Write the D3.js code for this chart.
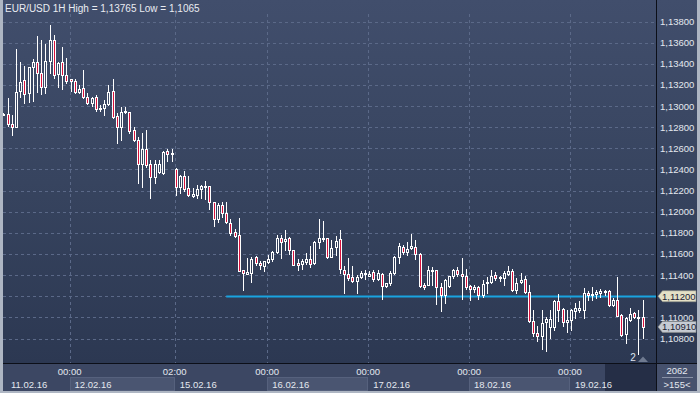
<!DOCTYPE html>
<html>
<head>
<meta charset="utf-8">
<script src="https://cdn.jsdelivr.net/npm/d3@7"></script>
<style>
  html, body { margin: 0; padding: 0; background: #2e3a55; }
  svg { display: block; font-family: "Liberation Sans", Arial, sans-serif; }
</style>
</head>
<body>
<svg id="chart"></svg>
<script>
// EUR/USD 1H candles, 11.02.16 - 19.02.16
const open = [
  1.12921,1.12921,1.12827,1.12805,1.13146,1.13244,1.13121,1.13367,1.13414,1.13310,
  1.13177,1.13424,1.13626,1.13301,1.13414,1.13291,1.13253,1.13234,1.13133,1.13168,
  1.13089,1.13032,1.13083,1.12969,1.12978,1.13019,1.13143,1.12903,1.12798,1.12940,
  1.12940,1.12773,1.12678,1.12448,1.12590,1.12448,1.12324,1.12378,1.12367,1.12572,
  1.12543,1.12407,1.12230,1.12338,1.12221,1.12151,1.12158,1.12211,1.12237,1.12243,
  1.12091,1.11927,1.12063,1.11984,1.11889,1.11810,1.11775,1.11447,1.11415,1.11421,
  1.11567,1.11519,1.11488,1.11526,1.11554,1.11620,1.11747,1.11722,1.11747,1.11636,
  1.11516,1.11507,1.11522,1.11548,1.11510,1.11709,1.11740,1.11747,1.11573,1.11662,
  1.11738,1.11447,1.11415,1.11384,1.11346,1.11384,1.11409,1.11393,1.11431,1.11365,
  1.11415,1.11295,1.11321,1.11422,1.11567,1.11662,1.11621,1.11652,1.11668,1.11596,
  1.11311,1.11311,1.11441,1.11447,1.11283,1.11210,1.11295,1.11390,1.11447,1.11415,
  1.11390,1.11295,1.11264,1.11283,1.11210,1.11321,1.11331,1.11401,1.11369,1.11372,
  1.11407,1.11439,1.11256,1.11331,1.11366,1.11237,1.10965,1.10851,1.10819,1.10952,
  1.10908,1.10908,1.11151,1.11082,1.10955,1.10977,1.11056,1.11066,1.11066,1.11230,
  1.11208,1.11221,1.11230,1.11237,1.11246,1.11120,1.11167,1.11025,1.10845,1.10977,
  1.11041,1.11000,1.11003
];
const high = [
  1.12932,1.13073,1.12915,1.13541,1.13414,1.13380,1.13373,1.13446,1.13664,1.13626,
  1.13588,1.13765,1.13674,1.13421,1.13557,1.13452,1.13260,1.13260,1.13200,1.13342,
  1.13121,1.13089,1.13105,1.13010,1.13057,1.13200,1.13253,1.12931,1.12988,1.12988,
  1.12943,1.12805,1.12710,1.12741,1.12773,1.12489,1.12489,1.12489,1.12572,1.12591,
  1.12591,1.12410,1.12347,1.12388,1.12338,1.12221,1.12252,1.12252,1.12287,1.12245,
  1.12093,1.12079,1.12094,1.12091,1.11930,1.11835,1.11940,1.11450,1.11564,1.11573,
  1.11579,1.11535,1.11532,1.11589,1.11627,1.11775,1.11778,1.11826,1.11763,1.11638,
  1.11557,1.11557,1.11605,1.11674,1.11722,1.11927,1.11914,1.11750,1.11731,1.11769,
  1.11826,1.11485,1.11558,1.11485,1.11400,1.11441,1.11447,1.11441,1.11447,1.11447,
  1.11422,1.11327,1.11441,1.11580,1.11706,1.11684,1.11716,1.11788,1.11731,1.11605,
  1.11321,1.11485,1.11479,1.11450,1.11327,1.11365,1.11392,1.11460,1.11479,1.11558,
  1.11460,1.11311,1.11305,1.11295,1.11352,1.11384,1.11451,1.11426,1.11395,1.11436,
  1.11489,1.11458,1.11372,1.11420,1.11388,1.11309,1.11072,1.10914,1.11072,1.11003,
  1.11072,1.11167,1.11224,1.11088,1.11072,1.11079,1.11135,1.11151,1.11278,1.11246,
  1.11287,1.11256,1.11268,1.11262,1.11256,1.11183,1.11382,1.11028,1.11003,1.11088,
  1.11047,1.11072,1.11167
];
const low = [
  1.12915,1.12811,1.12726,1.12800,1.13089,1.13032,1.13042,1.13051,1.13133,1.13114,
  1.13121,1.13310,1.13263,1.13184,1.13159,1.13215,1.13146,1.13127,1.13127,1.13073,
  1.13019,1.13001,1.12956,1.12956,1.12915,1.13010,1.12890,1.12647,1.12678,1.12931,
  1.12741,1.12672,1.12267,1.12236,1.12425,1.12125,1.12274,1.12362,1.12360,1.12483,
  1.12483,1.12154,1.12173,1.12199,1.12150,1.12135,1.12126,1.12126,1.12117,1.12028,
  1.11867,1.11905,1.11946,1.11889,1.11778,1.11763,1.11438,1.11263,1.11409,1.11336,
  1.11494,1.11453,1.11440,1.11516,1.11535,1.11605,1.11564,1.11636,1.11598,1.11494,
  1.11447,1.11453,1.11503,1.11478,1.11503,1.11661,1.11725,1.11564,1.11567,1.11589,
  1.11422,1.11232,1.11352,1.11336,1.11232,1.11368,1.11359,1.11390,1.11346,1.11352,
  1.11178,1.11283,1.11308,1.11409,1.11510,1.11599,1.11589,1.11643,1.11554,1.11283,
  1.11273,1.11302,1.11305,1.11125,1.11058,1.11140,1.11289,1.11377,1.11390,1.11178,
  1.11273,1.11169,1.11242,1.11175,1.11194,1.11226,1.11325,1.11357,1.11341,1.11309,
  1.11401,1.11252,1.11230,1.11325,1.11230,1.10952,1.10826,1.10772,1.10699,1.10677,
  1.10804,1.10883,1.10962,1.10914,1.10857,1.10883,1.10993,1.11047,1.10993,1.11167,
  1.11161,1.11183,1.11192,1.11214,1.11110,1.11104,1.11009,1.10826,1.10756,1.10962,
  1.10993,1.10650,1.10804
];
const close = [
  1.12928,1.12827,1.12805,1.13133,1.13231,1.13114,1.13367,1.13414,1.13310,1.13177,
  1.13424,1.13626,1.13291,1.13405,1.13291,1.13241,1.13234,1.13133,1.13162,1.13083,
  1.13026,1.13076,1.12969,1.12985,1.13019,1.13133,1.12893,1.12798,1.12940,1.12953,
  1.12764,1.12678,1.12448,1.12590,1.12441,1.12324,1.12448,1.12448,1.12568,1.12546,
  1.12553,1.12230,1.12338,1.12211,1.12154,1.12167,1.12211,1.12243,1.12243,1.12091,
  1.11927,1.12063,1.11984,1.11898,1.11801,1.11769,1.11440,1.11421,1.11428,1.11557,
  1.11516,1.11491,1.11532,1.11557,1.11617,1.11753,1.11709,1.11740,1.11636,1.11500,
  1.11497,1.11535,1.11551,1.11503,1.11709,1.11750,1.11753,1.11573,1.11652,1.11725,
  1.11453,1.11415,1.11368,1.11346,1.11384,1.11422,1.11422,1.11415,1.11359,1.11422,
  1.11295,1.11321,1.11422,1.11573,1.11675,1.11621,1.11643,1.11675,1.11596,1.11295,
  1.11289,1.11447,1.11447,1.11283,1.11210,1.11352,1.11390,1.11447,1.11415,1.11390,
  1.11283,1.11264,1.11289,1.11210,1.11314,1.11333,1.11395,1.11369,1.11382,1.11420,
  1.11439,1.11256,1.11325,1.11357,1.11237,1.10965,1.10851,1.10819,1.10946,1.10984,
  1.10984,1.11151,1.11072,1.10952,1.10977,1.11072,1.11088,1.11091,1.11230,1.11211,
  1.11224,1.11237,1.11252,1.11252,1.11120,1.11167,1.11015,1.10829,1.10993,1.11034,
  1.11003,1.11003,1.10910
];

const yTicks = [1.108, 1.110, 1.112, 1.114, 1.116, 1.118, 1.120, 1.122,
                1.124, 1.126, 1.128, 1.130, 1.132, 1.134, 1.136, 1.138];
const timeTickIdx = [16, 41, 63, 87, 111, 135];
const timeTickLabels = ["00:00", "02:00", "00:00", "00:00", "00:00", "00:00"];
const dayStartIdx = [0, 16, 41, 63, 87, 111, 135];
const dayLabels = ["11.02.16", "12.02.16", "15.02.16", "16.02.16", "17.02.16", "18.02.16", "19.02.16"];
const levelPrice = 1.112;
const levelStartIdx = 53;
const titleText = "EUR/USD 1H High = 1,13765 Low = 1,1065";
const barCount = "2062";
const barVisible = ">155<";

const W = 700, H = 393;
const plot = {left: 3, right: 656, top: 0, bottom: 363};
const fmt = v => d3.format(".5f")(v).replace(".", ",");

const svg = d3.select("#chart").attr("width", W).attr("height", H);

const defs = svg.append("defs");
const bg = defs.append("linearGradient")
  .attr("id", "bg").attr("gradientUnits", "userSpaceOnUse")
  .attr("x1", 0).attr("y1", 0).attr("x2", 0).attr("y2", plot.bottom);
bg.append("stop").attr("offset", "0%").attr("stop-color", "#414e6c");
bg.append("stop").attr("offset", "50%").attr("stop-color", "#37445f");
bg.append("stop").attr("offset", "100%").attr("stop-color", "#2c3852");

// backgrounds
svg.append("rect").attr("x", 0).attr("y", 0).attr("width", W).attr("height", H).attr("fill", "url(#bg)");
svg.append("rect").attr("x", plot.left).attr("y", plot.bottom).attr("width", W - plot.left).attr("height", H - plot.bottom)
  .attr("fill", "#3c4763");

const x = d3.scaleLinear().domain([0, open.length - 1]).range([3.3, 642.5]);
const y = d3.scaleLinear().domain([1.108, 1.138]).range([338.5, 21.5]);

// date boxes on the time axis
const dayEnds = dayStartIdx.slice(1).map(i => x(i) - 1).concat([plot.right]);
dayStartIdx.forEach((d, k) => {
  if (k % 2 === 1) {
    const x0 = Math.round(x(d) - 1);
    svg.append("rect")
      .attr("x", x0 + 0.5).attr("y", 377.5)
      .attr("width", Math.round(dayEnds[k]) - x0 - 1).attr("height", 13)
      .attr("fill", "#4a5571").attr("stroke", "#56617d");
  }
});
svg.append("rect").attr("x", 605).attr("y", 364).attr("width", 51).attr("height", 27).attr("fill", "#252e46");
svg.append("rect").attr("x", 657).attr("y", 364).attr("width", 40).attr("height", 27).attr("fill", "#46516d");

// grid
const grid = svg.append("g").attr("stroke", "#5b6988").attr("stroke-dasharray", "3,3").attr("stroke-width", 1);
yTicks.forEach(v => {
  const yy = Math.round(y(v)) + 0.5;
  grid.append("line").attr("x1", plot.left).attr("x2", plot.right).attr("y1", yy).attr("y2", yy);
});
timeTickIdx.forEach(i => {
  const xx = Math.round(x(i) - 1) + 0.5;
  grid.append("line").attr("x1", xx).attr("x2", xx).attr("y1", 14).attr("y2", plot.bottom);
});

// level line
svg.append("line")
  .attr("x1", x(levelStartIdx)).attr("x2", plot.right)
  .attr("y1", Math.round(y(levelPrice)) + 0.5).attr("y2", Math.round(y(levelPrice)) + 0.5)
  .attr("stroke", "#19a3e0").attr("stroke-width", 2);

// candles
const candles = open.map((o, i) => ({i: i, o: o, h: high[i], l: low[i], c: close[i]}));
const cg = svg.append("g").attr("shape-rendering", "crispEdges");
const cEnter = cg.selectAll("g.candle").data(candles).enter().append("g").attr("class", "candle");
cEnter.append("line")
  .attr("x1", d => Math.round(x(d.i)) + 0.5).attr("x2", d => Math.round(x(d.i)) + 0.5)
  .attr("y1", d => Math.round(y(d.h))).attr("y2", d => Math.round(y(d.l)) + 1)
  .attr("stroke", "#ffffff").attr("stroke-width", 1);
cEnter.append("rect")
  .attr("x", d => Math.round(x(d.i)) - 0.5)
  .attr("y", d => Math.round(y(Math.max(d.o, d.c))) + 0.5)
  .attr("width", 2)
  .attr("height", d => Math.max(1, Math.round(y(Math.min(d.o, d.c))) - Math.round(y(Math.max(d.o, d.c)))))
  .attr("fill", d => d.c < d.o ? "#d8123c" : "url(#bg)")
  .attr("stroke", "#ffffff").attr("stroke-width", 1);

// frame lines
svg.append("line").attr("x1", plot.right + 0.5).attr("x2", plot.right + 0.5).attr("y1", 0).attr("y2", 391)
  .attr("stroke", "#0c0f18");
svg.append("line").attr("x1", plot.left).attr("x2", 697).attr("y1", plot.bottom + 0.5).attr("y2", plot.bottom + 0.5)
  .attr("stroke", "#0c0f18");
svg.append("rect").attr("x", 0).attr("y", 0).attr("width", 3).attr("height", H).attr("fill", "#aeb6c3");
svg.append("rect").attr("x", 697).attr("y", 0).attr("width", 3).attr("height", H).attr("fill", "#aeb6c3");
svg.append("rect").attr("x", 0).attr("y", 391).attr("width", W).attr("height", 2).attr("fill", "#aeb6c3");

// title
svg.append("text").attr("x", 5).attr("y", 11.5).attr("font-size", 10).attr("fill", "#e9ecf2").text(titleText);

// y axis labels (the level tag covers its own tick label)
const yl = svg.append("g").attr("font-size", 9.5).attr("fill", "#e4e8ef");
yTicks.filter(v => Math.abs(v - levelPrice) > 1e-9).forEach(v => {
  yl.append("text").attr("x", 660).attr("y", y(v) + 3.5).text(fmt(v));
});

// price tags
function tag(price, fill) {
  const yy = y(price);
  svg.append("path")
    .attr("d", `M658,${yy} L662.5,${yy - 5.5} L696,${yy - 5.5} L696,${yy + 5.5} L662.5,${yy + 5.5} Z`)
    .attr("fill", fill).attr("stroke", "#8d8f86").attr("stroke-width", 0.6);
  svg.append("text").attr("x", 662).attr("y", yy + 3.5).attr("font-size", 9.5).attr("fill", "#1b2233").text(fmt(price));
}
tag(levelPrice, "#e4e0c6");
tag(close[close.length - 1], "#c6cbd3");

// time axis labels
const xl = svg.append("g").attr("font-size", 9.5).attr("fill", "#e4e8ef");
timeTickIdx.forEach((i, k) => {
  xl.append("text").attr("x", x(i) - 1).attr("y", 375).attr("text-anchor", "middle").text(timeTickLabels[k]);
});
dayStartIdx.forEach((i, k) => {
  xl.append("text").attr("x", k === 0 ? 11 : x(i) + 4).attr("y", 387.5).text(dayLabels[k]);
});

// bottom right counters
svg.append("text").attr("x", 677).attr("y", 373.5).attr("text-anchor", "middle")
  .attr("font-size", 9.5).attr("fill", "#e4e8ef").text(barCount);
svg.append("line").attr("x1", 662).attr("x2", 693).attr("y1", 377.5).attr("y2", 377.5).attr("stroke", "#8891a6");
svg.append("text").attr("x", 677).attr("y", 388).attr("text-anchor", "middle")
  .attr("font-size", 9.5).attr("fill", "#e4e8ef").text(barVisible);

// scroll marker
svg.append("text").attr("x", 633).attr("y", 361).attr("text-anchor", "middle")
  .attr("font-size", 10).attr("fill", "#dfe4ee").text("2");
svg.append("path").attr("d", "M638,362 L643,356.5 L648,362 Z").attr("fill", "#6f7a90");
</script>
</body>
</html>
